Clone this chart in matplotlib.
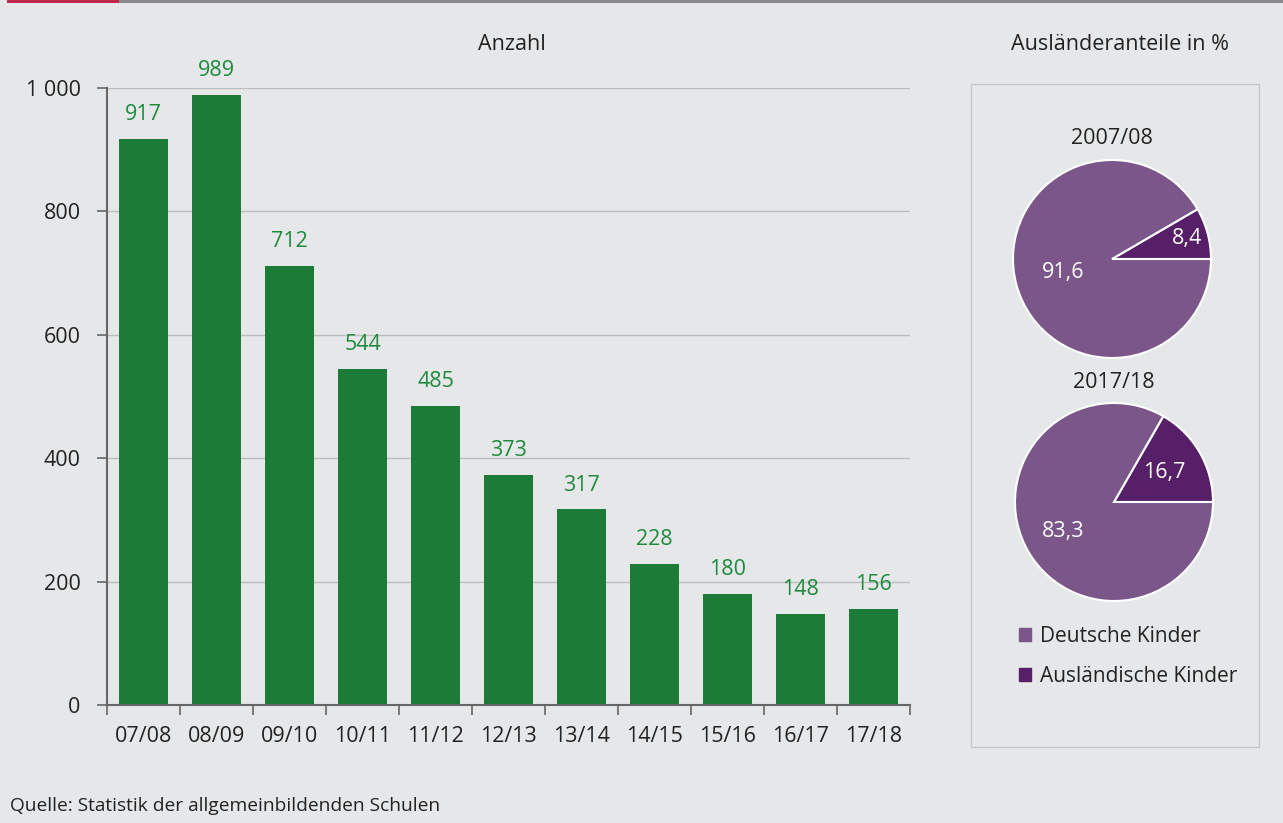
import numpy as np
import matplotlib
matplotlib.use("Agg")
import matplotlib.pyplot as plt
from matplotlib.patches import Patch, Rectangle

plt.rcParams["font.family"] = ["Open Sans", "DejaVu Sans"]

# data
years = ["07/08", "08/09", "09/10", "10/11", "11/12", "12/13",
         "13/14", "14/15", "15/16", "16/17", "17/18"]
counts = [917, 989, 712, 544, 485, 373, 317, 228, 180, 148, 156]

pie_titles = ["2007/08", "2017/18"]
auslaender = [8.4, 16.7]
deutsche = [91.6, 83.3]
legend_labels = ["Deutsche Kinder", "Ausländische Kinder"]

bg = "#e6e7e9"
green = "#1b7b37"
green_txt = "#1f8a3d"
purple_light = "#7a5689"
purple_dark = "#561f67"
txt = "#222222"
fs = 15.5

W, H = 1283, 823
fig = plt.figure(figsize=(W / 100, H / 100), dpi=100, facecolor=bg)


def box(x0, y0, x1, y1):
    # pixel box (top-left origin) -> figure fraction
    return [x0 / W, 1 - y1 / H, (x1 - x0) / W, (y1 - y0) / H]


# top stripe
fig.add_artist(Rectangle((7 / W, 1 - 3 / H), (119 - 7) / W, 3 / H,
                         transform=fig.transFigure, color="#c1274b", lw=0))
fig.add_artist(Rectangle((119 / W, 1 - 3 / H), (W - 119) / W, 3 / H,
                         transform=fig.transFigure, color="#8a8a8c", lw=0))

# bar chart
ax = fig.add_axes(box(107, 88, 910, 705))
ax.set_facecolor(bg)
x = np.arange(len(years))
bars = ax.bar(x, counts, width=0.66, color=green, zorder=3)
ax.bar_label(bars, padding=10, color=green_txt, fontsize=fs)
ax.set_xlim(-0.5, len(years) - 0.5)
ax.set_ylim(0, 1000)
ax.set_yticks([0, 200, 400, 600, 800, 1000])
ax.set_yticklabels([f"{v:,}".replace(",", " ") for v in [0, 200, 400, 600, 800, 1000]])
ax.set_xticks(x)
ax.set_xticklabels(years)
ax.set_xticks(np.arange(-0.5, len(years)), minor=True)
ax.tick_params(axis="x", which="major", length=0, pad=15, labelsize=fs, labelcolor=txt)
ax.tick_params(axis="x", which="minor", length=7, width=1.2, color="#666666")
ax.tick_params(axis="y", length=7, width=1.2, color="#666666", pad=12,
               labelsize=fs, labelcolor=txt)
ax.grid(axis="y", color="#bdbdbd", lw=1, zorder=0)
ax.set_axisbelow(True)
for s in ["top", "right"]:
    ax.spines[s].set_visible(False)
for s in ["left", "bottom"]:
    ax.spines[s].set_color("#666666")
    ax.spines[s].set_linewidth(1.5)
ax.spines["bottom"].set_zorder(4)

fig.text(512 / W, 1 - 45 / H, "Anzahl", ha="center", va="center", fontsize=fs, color=txt)
fig.text(1120 / W, 1 - 45 / H, "Ausländeranteile in %", ha="center", va="center",
         fontsize=fs, color=txt)

# pie panel frame
fig.add_artist(Rectangle((971 / W, 1 - 747 / H), (1259 - 971) / W, (747 - 84) / H,
                         transform=fig.transFigure, fill=False, ec="#c6c7c9", lw=1))

pie_boxes = [(1112, 259), (1114, 502)]
label_dist = [(0.78, 0.51), (0.59, 0.59)]
r = 99
for i, (cx, cy) in enumerate(pie_boxes):
    pax = fig.add_axes(box(cx - r, cy - r, cx + r, cy + r))
    vals = [auslaender[i], deutsche[i]]
    pax.pie(vals, colors=[purple_dark, purple_light], startangle=0, counterclock=True,
            wedgeprops=dict(edgecolor="white", linewidth=1.5))
    pax.set_xlim(-1, 1)
    pax.set_ylim(-1, 1)
    pax.set_aspect("equal")
    pax.axis("off")
    start = 0.0
    for v, d in zip(vals, label_dist[i]):
        mid = np.deg2rad((start + v / 2) / 100 * 360)
        pax.text(d * np.cos(mid), d * np.sin(mid), f"{v:.1f}".replace(".", ","),
                 ha="center", va="center", color="white", fontsize=fs)
        start += v
    fig.text(cx / W, 1 - (cy - r - 21) / H, pie_titles[i], ha="center", va="center",
             fontsize=fs, color=txt)

handles = [Patch(color=purple_light), Patch(color=purple_dark)]
fig.legend(handles, legend_labels, loc="upper left", bbox_to_anchor=(1000 / W, 1 - 607 / H),
           frameon=False, fontsize=15, handlelength=0.6, handleheight=0.6,
           handletextpad=0.4, labelspacing=0.9, labelcolor=txt)

fig.text(10 / W, 1 - 806 / H, "Quelle: Statistik der allgemeinbildenden Schulen",
         ha="left", va="center", fontsize=13.8, color=txt)

fig.savefig("out.png", dpi=100, facecolor=bg)
